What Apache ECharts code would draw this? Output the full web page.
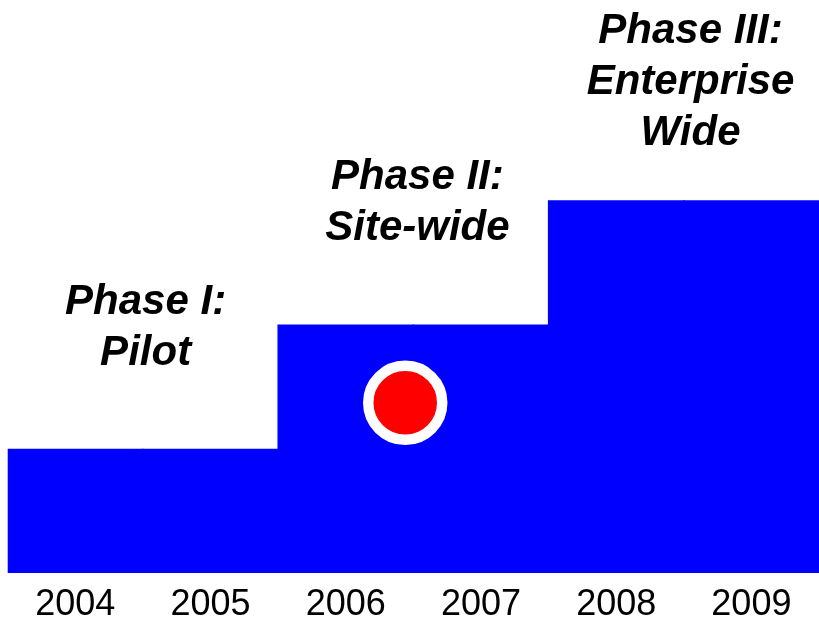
<!DOCTYPE html>
<html>
<head>
<meta charset="utf-8">
<script src="https://cdn.jsdelivr.net/npm/echarts@6/dist/echarts.min.js"></script>
<style>
html,body{margin:0;padding:0;background:#fff;}
#chart{width:819px;height:623px;}
</style>
</head>
<body>
<div id="chart"></div>
<script>
var categories = ['2004', '2005', '2006', '2007', '2008', '2009'];
var stepValues = [1, 1, 2, 2, 3, 3];
var phaseLabels = ['Phase I:\nPilot', 'Phase II:\nSite-wide', 'Phase III:\nEnterprise\nWide'];
var phaseX = [1.02, 3.03, 5.05];
var phaseY = [1.975, 2.98, 3.95];
var markerPoint = [2.94, 1.37];

var chart = echarts.init(document.getElementById('chart'));
var labelData = phaseLabels.map(function (t, i) {
  return { name: t, value: [phaseX[i], phaseY[i]] };
});
chart.setOption({
  animation: false,
  backgroundColor: '#ffffff',
  grid: { left: 7.7, right: 0, top: 76, bottom: 48, containLabel: false },
  xAxis: [
    {
      type: 'category',
      data: categories,
      axisLine: { show: false },
      axisTick: { show: false },
      axisLabel: {
        color: '#000',
        fontSize: 36,
        fontFamily: 'Liberation Sans, Arial, sans-serif',
        margin: 14
      }
    },
    {
      type: 'value',
      min: 0,
      max: 6,
      show: false
    }
  ],
  yAxis: {
    type: 'value',
    min: 0,
    max: 4,
    show: false,
    splitLine: { show: false }
  },
  series: [
    {
      type: 'bar',
      xAxisIndex: 0,
      data: stepValues,
      barWidth: '101%',
      barGap: '-100%',
      itemStyle: { color: '#0000ff' }
    },
    {
      type: 'scatter',
      xAxisIndex: 1,
      data: labelData,
      symbolSize: 1,
      itemStyle: { color: 'rgba(0,0,0,0)', opacity: 1 },
      label: {
        show: true,
        position: 'inside',
        formatter: function (p) { return p.name; },
        color: '#000000',
        opacity: 1,
        fontSize: 42,
        fontWeight: 'bold',
        fontStyle: 'italic',
        fontFamily: 'Liberation Sans, Arial, sans-serif',
        lineHeight: 51,
        align: 'center'
      }
    },
    {
      type: 'scatter',
      xAxisIndex: 1,
      data: [markerPoint],
      symbolSize: 74,
      itemStyle: { color: '#ff0000', borderColor: '#ffffff', borderWidth: 10.5, opacity: 1 }
    }
  ]
});
</script>
</body>
</html>
